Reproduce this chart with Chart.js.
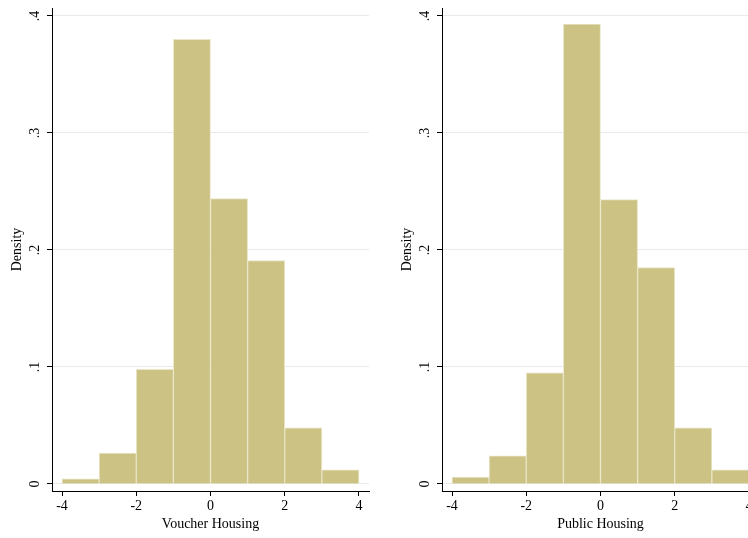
<!DOCTYPE html>
<html><head><meta charset="utf-8">
<script src="https://cdn.jsdelivr.net/npm/chart.js@4"></script>
<style>
html,body{margin:0;padding:0;background:#fff;overflow:hidden;width:748px;height:538px}
#wrap{position:relative;width:800px;height:538px}
.c{position:absolute;top:0;width:376px;height:538px}
</style></head><body>
<div id="wrap">
<div class="c" style="left:0"><canvas id="c1"></canvas></div>
<div class="c" style="left:390px"><canvas id="c2"></canvas></div>
</div>
<script>
const binCenters = [-3.5,-2.5,-1.5,-0.5,0.5,1.5,2.5,3.5];
const voucherDensity = [0.0043,0.0265,0.098,0.380,0.244,0.191,0.048,0.012];
const publicDensity = [0.006,0.024,0.095,0.393,0.243,0.185,0.048,0.012];
const xTicks = [-4,-2,0,2,4];
const yTicks = [0,0.1,0.2,0.3,0.4];
const yLabels = ['0','.1','.2','.3','.4'];
const FONT = '"Liberation Serif","DejaVu Serif",serif';

function make(id, vals, title){
  const labelPlugin = {
    id:'lbl',
    afterDraw(chart){
      const ctx=chart.ctx, ys=chart.scales.y, xs=chart.scales.x, a=chart.chartArea;
      ctx.save();
      ctx.fillStyle='#000';
      ctx.font='14px '+FONT;
      yTicks.forEach((v,i)=>{
        const py=ys.getPixelForValue(v);
        ctx.save(); ctx.translate(a.left-10,py); ctx.rotate(-Math.PI/2);
        ctx.textAlign='center'; ctx.textBaseline='bottom';
        ctx.fillText(yLabels[i],0,0); ctx.restore();
      });
      ctx.save(); ctx.translate(a.left-28,(a.top+a.bottom)/2); ctx.rotate(-Math.PI/2);
      ctx.textAlign='center'; ctx.textBaseline='bottom'; ctx.fillText('Density',0,0); ctx.restore();
      ctx.textAlign='center'; ctx.textBaseline='top';
      xTicks.forEach(v=>{ctx.fillText(String(v),xs.getPixelForValue(v),a.bottom+8);});
      ctx.fillText(title,(a.left+a.right)/2,a.bottom+26);
      ctx.restore();
    }
  };
  new Chart(document.getElementById(id),{
    type:'bar',
    data:{datasets:[{data:binCenters.map((x,i)=>({x:x,y:vals[i]})),
      backgroundColor:'#CBC283',borderColor:'#E9E5C6',borderWidth:1,
      barPercentage:1,categoryPercentage:1,grouped:false}]},
    options:{
      responsive:true,maintainAspectRatio:false,animation:false,
      layout:{padding:{top:8,right:7,left:0,bottom:0}},
      plugins:{legend:{display:false},tooltip:{enabled:false}},
      scales:{
        x:{type:'linear',min:-4.27,max:4.27,offset:false,
          afterBuildTicks:s=>{s.ticks=xTicks.map(v=>({value:v}));},
          afterFit:s=>{s.height=47;},
          ticks:{display:false},
          grid:{offset:false,drawOnChartArea:false,tickLength:5,color:'#000',tickColor:'#000'},
          border:{color:'#000',width:1}},
        y:{min:-0.006,max:0.4068,
          afterBuildTicks:s=>{s.ticks=yTicks.map(v=>({value:v}));},
          afterFit:s=>{s.width=52;},
          ticks:{display:false},
          grid:{offset:false,drawOnChartArea:true,color:'#EAEAEA',tickLength:5,tickColor:'#000'},
          border:{color:'#000',width:1}}
      }
    },
    plugins:[labelPlugin]
  });
}
make('c1',voucherDensity,'Voucher Housing');
make('c2',publicDensity,'Public Housing');
</script>
</body></html>
